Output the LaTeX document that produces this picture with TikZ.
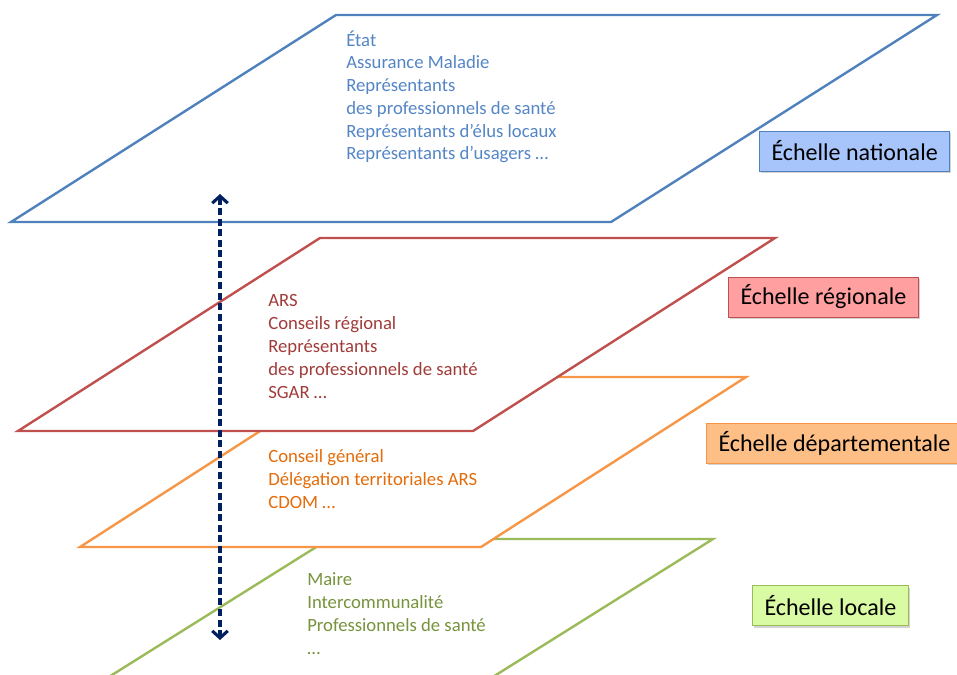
\documentclass[tikz,border=0pt]{standalone}
\usepackage{fontspec}
\setmainfont{Carlito}
\usetikzlibrary{arrows.meta,shadows}
\definecolor{natline}{RGB}{79,129,189}
\definecolor{nattext}{RGB}{84,134,198}
\definecolor{natfill}{RGB}{167,197,250}
\definecolor{regline}{RGB}{192,80,77}
\definecolor{regtext}{RGB}{160,60,58}
\definecolor{regfill}{RGB}{255,159,159}
\definecolor{depline}{RGB}{247,150,70}
\definecolor{deptext}{RGB}{228,108,10}
\definecolor{depfill}{RGB}{253,191,134}
\definecolor{locline}{RGB}{155,187,89}
\definecolor{loctext}{RGB}{119,147,60}
\definecolor{locfill}{RGB}{216,251,164}
\definecolor{darknavy}{RGB}{0,32,96}

\begin{document}
\begin{tikzpicture}[x=0.025cm, y=-0.025cm,
    plane/.style={line width=1.7pt, fill=white},
    members/.style={anchor=base west, align=left, inner sep=0pt,
      font=\fontsize{13.3}{16.2}\selectfont},
    scalebox/.style={draw, line width=0.7pt, anchor=west, text=black,
      minimum height=1cm, inner xsep=0.3cm,
      font=\fontsize{17.1}{20}\selectfont,
      drop shadow={shadow xshift=1pt, shadow yshift=-1.5pt, opacity=0.35}}]
  \useasboundingbox (0,0) rectangle (957,675);
  \clip (0,0) rectangle (957,675);
  % Local plane (lowest, runs off the bottom)
  \draw[plane, draw=locline] (329,539) -- (713,539) -- (456,700) -- (72,700) -- cycle;
  % Departmental plane
  \draw[plane, draw=depline] (344,377) -- (746,377) -- (481,547) -- (80,547) -- cycle;
  % Regional plane
  \draw[plane, draw=regline] (320,238) -- (775,238) -- (473,431) -- (18,431) -- cycle;
  % National plane (top)
  \draw[plane, draw=natline] (336,15) -- (937,15) -- (611,222) -- (11,222) -- cycle;
  % Actors on each plane (anchored on the last line)
  \node[members, text=nattext] (natlist) at (346,160)
    {État\\Assurance Maladie\\Représentants\\des professionnels de santé\\Représentants d’élus locaux\\Représentants d’usagers …};
  \node[members, text=regtext] (reglist) at (268,398)
    {ARS\\Conseils régional\\Représentants\\des professionnels de santé\\SGAR …};
  \node[members, text=deptext] (deplist) at (268,508)
    {Conseil général\\Délégation territoriales ARS\\CDOM …};
  \node[members, text=loctext] (loclist) at (307,654)
    {Maire\\Intercommunalité\\Professionnels de santé\\…};
  % Scale labels
  \node[scalebox, draw=natline, fill=natfill] (natbox) at (759,151) {Échelle nationale};
  \node[scalebox, draw=regline, fill=regfill] (regbox) at (728,297) {Échelle régionale};
  \node[scalebox, draw=depline, fill=depfill] (depbox) at (706,443) {Échelle départementale};
  \node[scalebox, draw=locline, fill=locfill] (locbox) at (752,605.5) {Échelle locale};
  % Two-way dashed arrow through the planes
  \coordinate (arrtop) at (220,194);
  \coordinate (arrbot) at (220,640);
  \draw[darknavy, line width=2.2pt, dash pattern=on 5pt off 2.5pt,
    {Straight Barb[length=5pt,width=11pt]}-{Straight Barb[length=5pt,width=11pt]}]
    (arrtop) -- (arrbot);
\end{tikzpicture}
\end{document}
